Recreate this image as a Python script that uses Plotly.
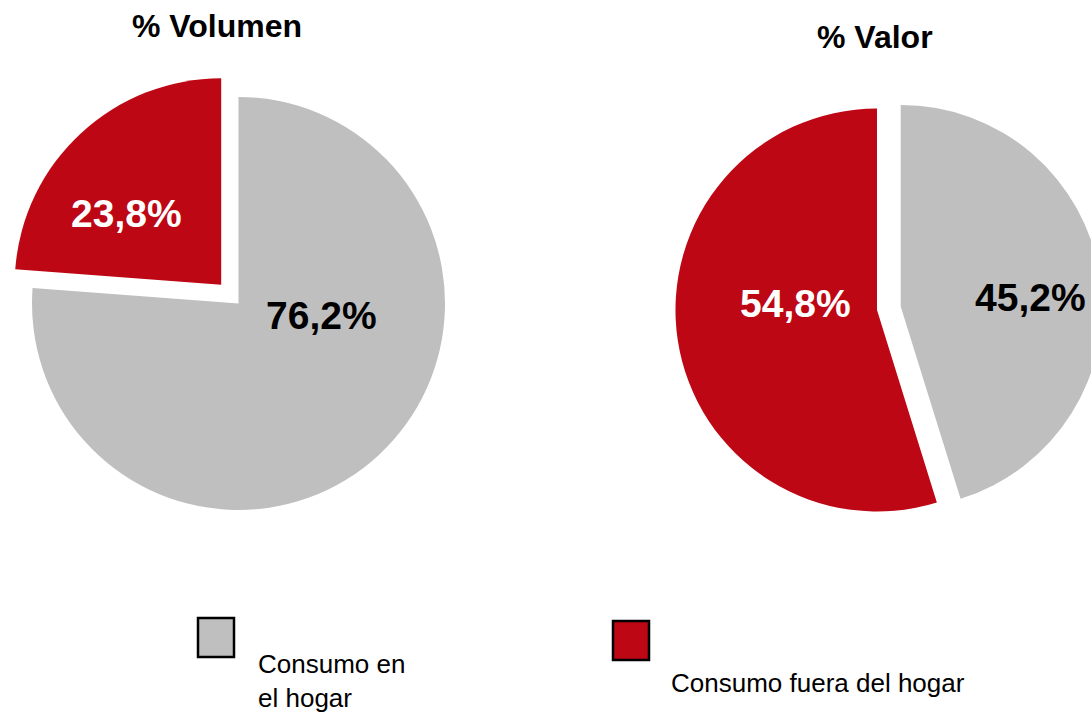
import plotly.graph_objects as go

# ---- data ----
categories = ["Consumo en el hogar", "Consumo fuera del hogar"]
legend_labels = ["Consumo en<br>el hogar", "Consumo fuera del hogar"]
volumen_values = [76.2, 23.8]
valor_values = [45.2, 54.8]
titles = ["% Volumen", "% Valor"]

# ---- style ----
W, H = 1110, 713
GRAY = "#BFBFBF"
RED = "#BE0714"
colors = [GRAY, RED]
FONT = "Liberation Sans, Arial, sans-serif"


def px(x):
    return x / W


def py(y):
    return 1 - y / H


def fmt(v):
    return f"{v:.1f}%".replace(".", ",")


fig = go.Figure()

fig.add_trace(go.Pie(
    labels=categories, values=volumen_values, sort=False, direction="clockwise",
    rotation=0, pull=[0, 0.1235], marker=dict(colors=colors, line=dict(width=0)),
    textinfo="none", hoverinfo="label+percent", showlegend=False,
    domain=dict(x=[px(6.5), px(470.5)], y=[py(535.5), py(71.5)]),
))
fig.add_trace(go.Pie(
    labels=categories, values=valor_values, sort=False, direction="clockwise",
    rotation=0, pull=[0.119, 0], marker=dict(colors=colors, line=dict(width=0)),
    textinfo="none", hoverinfo="label+percent", showlegend=False,
    domain=dict(x=[px(651.5), px(1102.5)], y=[py(535.5), py(84.5)]),
))

annotations = []


def add_text(text, x, y, size, color="black", xanchor="center", align="center"):
    annotations.append(dict(text=text, x=px(x), y=py(y), xref="paper", yref="paper",
                            xanchor=xanchor, yanchor="middle", align=align, showarrow=False,
                            font=dict(size=size, color=color, family=FONT)))


# titles
add_text(f"<b>{titles[0]}</b>", 217, 26, 32)
add_text(f"<b>{titles[1]}</b>", 875, 37, 32)
# slice labels
add_text(f"<b>{fmt(volumen_values[1])}</b>", 126, 213, 39, "white")
add_text(f"<b>{fmt(volumen_values[0])}</b>", 321, 315, 39, "black")
add_text(f"<b>{fmt(valor_values[1])}</b>", 795, 303, 39, "white")
add_text(f"<b>{fmt(valor_values[0])}</b>", 1030, 297, 39, "black")
# legend texts
add_text(legend_labels[0], 256, 681, 26, xanchor="left", align="left")
add_text(legend_labels[1], 669, 683, 26, xanchor="left", align="left")

shapes = [
    dict(type="rect", xref="paper", yref="paper", x0=px(198), x1=px(234), y0=py(657), y1=py(618),
         fillcolor=GRAY, line=dict(color="black", width=2.5)),
    dict(type="rect", xref="paper", yref="paper", x0=px(613), x1=px(649), y0=py(660), y1=py(621),
         fillcolor=RED, line=dict(color="black", width=2.5)),
]

fig.update_layout(
    width=W, height=H, margin=dict(l=0, r=0, t=0, b=0),
    paper_bgcolor="white", plot_bgcolor="white",
    annotations=annotations, shapes=shapes, showlegend=False,
    font=dict(family=FONT),
)

fig.write_html(
    "out.html",
    config={"displayModeBar": False},
    post_script="document.body.style.margin='0';document.body.style.overflow='hidden';"
                "document.documentElement.style.overflow='hidden';",
)
